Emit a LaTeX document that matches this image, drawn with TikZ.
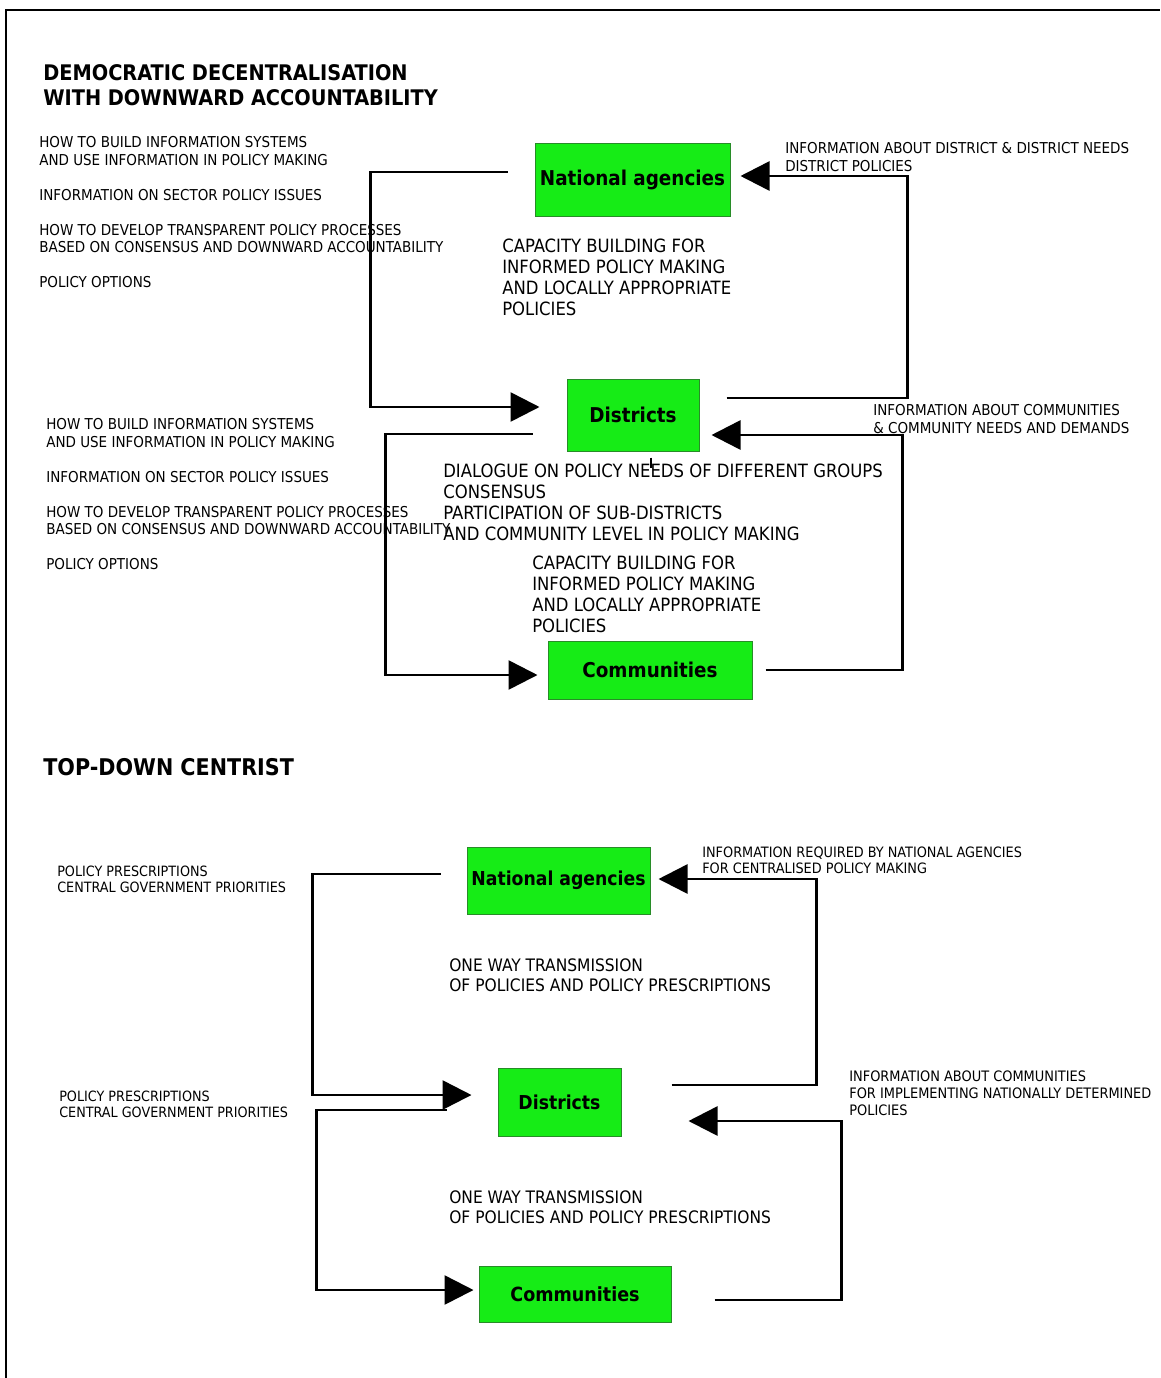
\documentclass[tikz,border=0pt]{standalone}
\usepackage{fontspec}
\setmainfont{DejaVu Sans Condensed}
\usepackage{tikz}
\usetikzlibrary{arrows.meta}
\usetikzlibrary{positioning}
\usetikzlibrary{calc}
\definecolor{boxgreen}{RGB}{22,236,22}
\definecolor{boxedge}{RGB}{40,140,40}
\tikzset{
  % arrow tip used on every loop
  >={Triangle[length=29pt,width=29pt]},
  % text sizes
  note/.style={anchor=north west, inner sep=0pt, align=left, font=\fontsize{15}{17.5}\selectfont},
  talk/.style={anchor=north west, inner sep=0pt, align=left, font=\fontsize{18.3}{21}\selectfont},
  title/.style={anchor=north west, inner sep=0pt, align=left, font=\bfseries\fontsize{21.5}{25}\selectfont}
}

\begin{document}
\begin{tikzpicture}[x=1pt, y=-1pt, line width=2.6pt]
    % Define styles
    \tikzstyle{block} = [rectangle, draw=boxedge, line width=1pt, fill=boxgreen, font=\bfseries\fontsize{20.4}{24}\selectfont]
    \tikzstyle{line} = [draw, ->]

    \useasboundingbox (0,0) rectangle (1160,1378);
    \draw[line width=2pt] (6,1378) -- (6,10) -- (1160,10);

    % Democratic decentralisation: place nodes
    \node [title] (head1) at (42,63) {DEMOCRATIC DECENTRALISATION\\WITH DOWNWARD ACCOUNTABILITY};
    \node [block, minimum width=195pt, minimum height=73pt] (na1) at (632.5,179.5) {National agencies};
    \node [block, minimum width=132pt, minimum height=72pt] (dis1) at (633,415) {Districts};
    \node [block, minimum width=204pt, minimum height=58pt] (com1) at (650,670) {Communities};

    \node [note] (help1) at (38,135.5) {HOW TO BUILD INFORMATION SYSTEMS\\AND USE INFORMATION IN POLICY MAKING\\[17.5pt]
      INFORMATION ON SECTOR POLICY ISSUES\\[17.5pt]
      HOW TO DEVELOP TRANSPARENT POLICY PROCESSES\\BASED ON CONSENSUS AND DOWNWARD ACCOUNTABILITY\\[17.5pt]
      POLICY OPTIONS};
    \node [note] (help2) at (45,417.5) {HOW TO BUILD INFORMATION SYSTEMS\\AND USE INFORMATION IN POLICY MAKING\\[17.5pt]
      INFORMATION ON SECTOR POLICY ISSUES\\[17.5pt]
      HOW TO DEVELOP TRANSPARENT POLICY PROCESSES\\BASED ON CONSENSUS AND DOWNWARD ACCOUNTABILITY\\[17.5pt]
      POLICY OPTIONS};
    \node [note] (up1) at (784,141.5) {INFORMATION ABOUT DISTRICT \& DISTRICT NEEDS\\DISTRICT POLICIES};
    \node [note] (up2) at (872,403.5) {INFORMATION ABOUT COMMUNITIES\\\& COMMUNITY NEEDS AND DEMANDS};
    \node [talk] (cap1) at (501,238) {CAPACITY BUILDING FOR\\INFORMED POLICY MAKING\\AND LOCALLY APPROPRIATE\\POLICIES};
    \node [talk] (talk1) at (442,463) {DIALOGUE ON POLICY NEEDS OF DIFFERENT GROUPS\\CONSENSUS\\PARTICIPATION OF SUB-DISTRICTS\\AND COMMUNITY LEVEL IN POLICY MAKING};
    \node [talk] (cap2) at (531,555) {CAPACITY BUILDING FOR\\INFORMED POLICY MAKING\\AND LOCALLY APPROPRIATE\\POLICIES};

    % Democratic decentralisation: draw edges
    \path [line] ([shift={(-27,-7.5)}]na1.west) -- ++(-137,0) |- ([shift={(-27,-8)}]dis1.west);
    \path [line] ([shift={(27,-17)}]dis1.east) -- ++(181,0) |- ([shift={(10,-3.5)}]na1.east);
    \path [line] ([shift={(-34,19)}]dis1.west) -- ++(-147,0) |- ([shift={(-10,5)}]com1.west);
    \path [line] ([shift={(13,0)}]com1.east) -- ++(137,0) |- ([shift={(12,20)}]dis1.east);
    \draw [line width=2pt] ([shift={(18,6)}]dis1.south) -- ++(0,10);

    % Top-down centrist: place nodes
    \node [title, font=\bfseries\fontsize{23}{26}\selectfont] (head2) at (42,757.5) {TOP-DOWN CENTRIST};
    \node [block, minimum width=183pt, minimum height=67pt, font=\bfseries\fontsize{19.2}{22}\selectfont] (na2) at (558.5,880.5) {National agencies};
    \node [block, minimum width=123pt, minimum height=68pt, font=\bfseries\fontsize{19.2}{22}\selectfont] (dis2) at (559.5,1102) {Districts};
    \node [block, minimum width=192pt, minimum height=56pt, font=\bfseries\fontsize{19.5}{22}\selectfont] (com2) at (575,1294) {Communities};

    \node [note, font=\fontsize{14.2}{16}\selectfont] (rule1) at (56,864.5) {POLICY PRESCRIPTIONS\\CENTRAL GOVERNMENT PRIORITIES};
    \node [note, font=\fontsize{14.2}{16}\selectfont] (rule2) at (58,1089.5) {POLICY PRESCRIPTIONS\\CENTRAL GOVERNMENT PRIORITIES};
    \node [note, font=\fontsize{14.3}{16.5}\selectfont] (up3) at (701,845.5) {INFORMATION REQUIRED BY NATIONAL AGENCIES\\FOR CENTRALISED POLICY MAKING};
    \node [note, font=\fontsize{14.4}{17}\selectfont] (up4) at (848,1069.5) {INFORMATION ABOUT COMMUNITIES\\FOR IMPLEMENTING NATIONALLY DETERMINED\\POLICIES};
    \node [talk, font=\fontsize{17.2}{20}\selectfont] (one1) at (448,957.5) {ONE WAY TRANSMISSION\\OF POLICIES AND POLICY PRESCRIPTIONS};
    \node [talk, font=\fontsize{17.2}{20}\selectfont] (one2) at (448,1189.5) {ONE WAY TRANSMISSION\\OF POLICIES AND POLICY PRESCRIPTIONS};

    % Top-down centrist: draw edges
    \path [line] ([shift={(-26,-6.5)}]na2.west) -- ++(-128,0) |- ([shift={(-26,-7)}]dis2.west);
    \path [line] ([shift={(50,-17)}]dis2.east) -- ++(145,0) |- ([shift={(8,-1.5)}]na2.east);
    \path [line] ([shift={(-51,8)}]dis2.west) -- ++(-130,0) |- ([shift={(-5,-4)}]com2.west);
    \path [line] ([shift={(43,6)}]com2.east) -- ++(127,0) |- ([shift={(67,19)}]dis2.east);

\end{tikzpicture}
\end{document}
